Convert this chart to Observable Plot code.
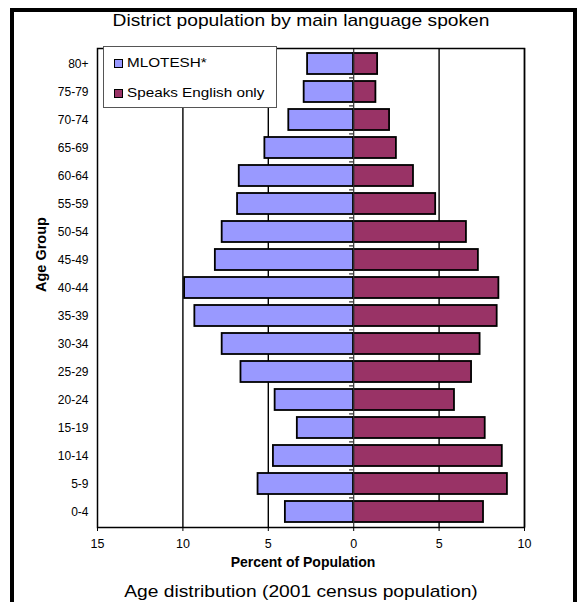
<!DOCTYPE html>
<html>
<head>
<meta charset="utf-8">
<script src="https://cdn.jsdelivr.net/npm/d3@7"></script>
<script src="https://cdn.jsdelivr.net/npm/@observablehq/plot@0.6"></script>
<style>
  html, body { margin: 0; padding: 0; background: #fff; width: 583px; height: 602px; overflow: hidden; }
  body { position: relative; font-family: "Liberation Sans", Arial, sans-serif; color: #000; }
  #border { position: absolute; left: 10px; top: 8px; width: 567px; height: 640px; border: 4px solid #000; box-sizing: border-box; }
  .ttl { position: absolute; left: 0; width: 602px; text-align: center; font-size: 17px; line-height: 19px; white-space: nowrap; transform: scaleX(1.13); transform-origin: 301px 0; }
  #title { top: 11px; }
  #caption { top: 582px; }
  #chart { position: absolute; left: 0; top: 36px; }
  #legend { position: absolute; left: 103px; top: 46px; width: 174px; height: 62px; box-sizing: border-box; background: #fff; border: 1px solid #555; }
  .item { position: absolute; left: 10px; height: 12px; white-space: nowrap; }
  .sw { position: absolute; left: 0; top: 1px; width: 9px; height: 9px; box-sizing: border-box; border: 1.5px solid #000; }
  .lab { position: absolute; left: 13px; top: -5px; font-size: 13.5px; line-height: 20px; transform: scaleX(1.13); transform-origin: 0 0; }
</style>
</head>
<body>
<div id="border"></div>
<div id="title" class="ttl">District population by main language spoken</div>
<div id="chart"></div>
<div id="legend"></div>
<div id="caption" class="ttl">Age distribution (2001 census population)</div>
<script>
const ages = ["0-4","5-9","10-14","15-19","20-24","25-29","30-34","35-39","40-44","45-49","50-54","55-59","60-64","65-69","70-74","75-79","80+"];
const mlotesh = [4.0,5.6,4.7,3.3,4.6,6.6,7.7,9.3,9.9,8.1,7.7,6.8,6.7,5.2,3.8,2.9,2.7];
const english = [7.6,9.0,8.7,7.7,5.9,6.9,7.4,8.4,8.5,7.3,6.6,4.8,3.5,2.5,2.1,1.3,1.4];
const seriesNames = ["MLOTESH*", "Speaks English only"];
const seriesColors = ["#9999FF", "#993366"];
const xTicks = [-15, -10, -5, 0, 5, 10];
const gridValues = [-10, -5, 5, 10];

const table = ages.flatMap((a, i) => [
  {age: a, series: seriesNames[0], value: -mlotesh[i]},
  {age: a, series: seriesNames[1], value: english[i]}
]);

const plotHeight = 479;
const mTop = 12, mBottom = 45;
const step = plotHeight / ages.length;

const chart = Plot.plot({
  width: 583,
  height: mTop + plotHeight + mBottom,
  marginLeft: 97,
  marginRight: 59,
  marginTop: mTop,
  marginBottom: mBottom,
  style: {fontFamily: "Liberation Sans, Arial, sans-serif", fontSize: "12px", color: "#000", background: "transparent"},
  x: {domain: [-15, 10], ticks: xTicks, tickFormat: d => Math.abs(d)},
  y: {domain: ages.slice().reverse(), paddingInner: 0.24, paddingOuter: 0.12, align: 0.5},
  color: {domain: seriesNames, range: seriesColors},
  marks: [
    Plot.ruleX(gridValues, {stroke: "#000", strokeWidth: 1.4}),
    Plot.barX(table, {y: "age", x1: 0, x2: "value", fill: "series", stroke: "#000", strokeWidth: 1.8}),
    Plot.ruleX([0], {stroke: "#333", strokeWidth: 1.2}),
    Plot.ruleY(ages.slice(0, -1), {y: d => d, x1: -0.24, x2: 0, dy: -step / 2, stroke: "#000", strokeWidth: 1}),
    Plot.frame({stroke: "#000", strokeWidth: 1.5}),
    Plot.axisX({ticks: xTicks, tickFormat: d => Math.abs(d), tickSize: 4, tickPadding: 8, fontSize: 12.5, label: null, stroke: "#000"}),
    Plot.axisY({tickSize: 0, tickPadding: 9, fontSize: 12, label: null}),
    Plot.text(["Percent of Population"], {frameAnchor: "bottom", dy: 39, dx: -8, fontWeight: "bold", fontSize: 14}),
    Plot.text(["Age Group"], {frameAnchor: "left", rotate: -90, dx: -56, dy: 4, fontWeight: "bold", fontSize: 14.5})
  ]
});
document.getElementById("chart").appendChild(chart);

const legend = document.getElementById("legend");
seriesNames.forEach((name, i) => {
  const item = document.createElement("div");
  item.className = "item";
  item.style.top = (i === 0 ? 11 : 41) + "px";
  const sw = document.createElement("div");
  sw.className = "sw";
  sw.style.background = seriesColors[i];
  const lab = document.createElement("div");
  lab.className = "lab";
  lab.textContent = name;
  item.appendChild(sw);
  item.appendChild(lab);
  legend.appendChild(item);
});
</script>
</body>
</html>
